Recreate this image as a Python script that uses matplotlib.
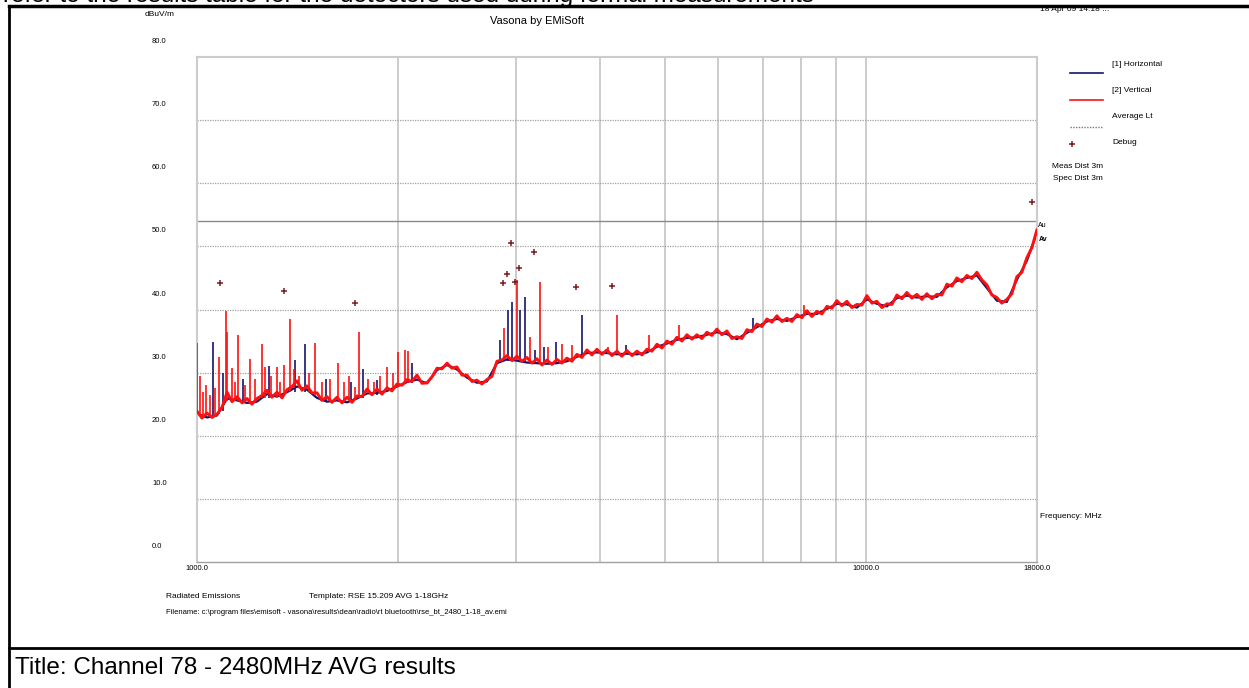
import matplotlib
matplotlib.use('Agg')
import matplotlib.pyplot as plt
from matplotlib.lines import Line2D
from matplotlib.transforms import ScaledTranslation

W, H = 1249, 688

# --- trace data (MHz, dBuV/m) ---
freq_v = [1000, 1017, 1035, 1053, 1071, 1090, 1109, 1128, 1148, 1168,
          1188, 1208, 1229, 1251, 1272, 1294, 1317, 1340, 1363, 1387,
          1411, 1435, 1460, 1485, 1511, 1537, 1564, 1591, 1619, 1647,
          1676, 1705, 1734, 1764, 1795, 1826, 1858, 1890, 1923, 1956,
          1990, 2025, 2060, 2095, 2132, 2169, 2206, 2244, 2284, 2323,
          2364, 2404, 2446, 2489, 2532, 2576, 2620, 2666, 2712, 2759,
          2807, 2856, 2905, 2956, 3007, 3059, 3112, 3166, 3221, 3277,
          3334, 3392, 3451, 3510, 3571, 3633, 3696, 3760, 3826, 3892,
          3960, 4028, 4098, 4169, 4242, 4315, 4390, 4467, 4544, 4623,
          4703, 4785, 4868, 4952, 5038, 5125, 5214, 5305, 5397, 5490,
          5586, 5682, 5781, 5881, 5983, 6087, 6193, 6300, 6410, 6521,
          6634, 6749, 6866, 6985, 7106, 7230, 7355, 7482, 7613, 7745,
          7879, 8016, 8155, 8296, 8440, 8587, 8736, 8887, 9041, 9198,
          9358, 9520, 9685, 9853, 10024, 10198, 10375, 10556, 10738, 10925,
          11114, 11307, 11503, 11703, 11906, 12113, 12322, 12537, 12754, 12976,
          13200, 13430, 13662, 13899, 14140, 14386, 14635, 14889, 15147, 15410,
          15678, 15950, 16227, 16508, 16795, 17087, 17382, 17685, 17991]
level_v = [23.9, 22.8, 23.6, 22.9, 23.4, 24.5, 26.9, 25.4, 26.2, 25.2,
           25.9, 25.0, 25.9, 26.4, 27.2, 26.1, 26.9, 26.0, 27.3, 27.8,
           28.7, 27.2, 27.9, 26.8, 26.8, 25.6, 26.2, 25.3, 26.1, 25.2,
           26.1, 25.3, 26.3, 26.2, 27.4, 26.5, 27.4, 26.6, 27.6, 27.1,
           28.2, 28.0, 28.9, 28.6, 29.6, 28.3, 28.4, 29.3, 30.7, 30.6,
           31.5, 30.7, 30.9, 29.6, 29.6, 28.6, 28.8, 28.2, 28.9, 29.4,
           31.8, 32.0, 32.7, 31.9, 32.6, 31.8, 32.4, 31.5, 32.2, 31.2,
           32.0, 31.3, 32.1, 31.5, 32.3, 31.8, 32.9, 32.4, 33.6, 32.8,
           33.7, 32.9, 33.6, 32.7, 33.4, 32.6, 33.5, 32.7, 33.4, 32.8,
           33.7, 33.4, 34.5, 33.9, 35.0, 34.5, 35.6, 35.0, 36.0, 35.3,
           36.0, 35.4, 36.4, 35.9, 36.9, 36.0, 36.6, 35.4, 35.7, 35.4,
           36.8, 36.5, 37.7, 37.3, 38.5, 38.0, 39.0, 38.1, 38.6, 38.1,
           39.2, 38.7, 39.8, 38.9, 39.7, 39.3, 40.5, 40.2, 41.4, 40.6,
           41.3, 40.3, 40.8, 40.7, 42.2, 41.0, 41.3, 40.3, 40.9, 40.8,
           42.3, 41.7, 42.7, 41.8, 42.4, 41.6, 42.5, 41.7, 42.4, 42.3,
           44.0, 43.7, 45.0, 44.4, 45.4, 44.9, 45.9, 44.7, 43.9, 42.3,
           41.9, 41.0, 41.6, 42.5, 45.2, 45.9, 48.2, 49.8, 52.6]

freq_h = [1000, 1035, 1071, 1109, 1148, 1188, 1229, 1272, 1317, 1363,
          1411, 1460, 1511, 1564, 1619, 1676, 1734, 1795, 1858, 1923,
          1990, 2060, 2132, 2206, 2284, 2364, 2446, 2532, 2620, 2712,
          2807, 2905, 3007, 3112, 3221, 3334, 3451, 3571, 3696, 3826,
          3960, 4098, 4242, 4390, 4544, 4703, 4868, 5038, 5214, 5397,
          5586, 5781, 5983, 6193, 6410, 6634, 6866, 7106, 7355, 7613,
          7879, 8155, 8440, 8736, 9041, 9358, 9685, 10024, 10375, 10738,
          11114, 11503, 11906, 12322, 12754, 13200, 13662, 14140, 14635, 15147,
          15678, 16227, 16795, 17382, 17991]
level_h = [23.5, 22.9, 23.2, 25.9, 25.6, 25.2, 25.4, 26.6, 26.2, 26.9,
           27.8, 27.3, 26.0, 25.4, 25.6, 25.3, 25.9, 26.7, 26.8, 27.1,
           27.8, 28.5, 28.9, 28.3, 30.4, 31.2, 30.5, 29.2, 28.4, 28.6,
           31.5, 32.1, 31.9, 31.6, 31.5, 31.4, 31.5, 31.8, 32.5, 33.1,
           33.2, 33.1, 32.9, 33.0, 32.9, 33.2, 34.1, 34.6, 35.2, 35.5,
           35.6, 36.0, 36.4, 36.1, 35.3, 36.3, 37.2, 38.1, 38.5, 38.2,
           38.8, 39.3, 39.3, 40.1, 40.9, 40.8, 40.3, 41.6, 40.9, 40.5,
           41.8, 42.2, 41.9, 42.1, 42.0, 43.5, 44.5, 45.0, 45.4, 43.4,
           41.4, 41.2, 44.7, 47.7, 52.1]

# narrow-band spikes: frequency, floor, peak
v_spike_freq = [1000, 1010, 1020, 1031, 1045, 1065, 1080, 1105, 1108, 1127,
                1140, 1153, 1180, 1200, 1220, 1249, 1263, 1290, 1315, 1330,
                1348, 1377, 1395, 1420, 1470, 1500, 1540, 1580, 1626, 1660,
                1688, 1720, 1748, 1800, 1840, 1880, 1921, 1960, 2000, 2046,
                2066, 2876, 3004, 3146, 3255, 3345, 3508, 3632, 4109, 4247,
                4742, 5257, 8080]
v_spike_low = [23.5, 23.2, 23.0, 23.2, 23.0, 23.2, 23.5, 25.5, 25.5, 25.5,
               25.5, 25.5, 25.3, 25.3, 25.3, 26.0, 26.0, 26.2, 26.2, 26.2,
               26.5, 27.0, 27.5, 27.5, 27.0, 26.5, 25.6, 25.6, 25.7, 25.7,
               25.7, 25.8, 26.0, 26.8, 26.8, 27.0, 27.2, 27.3, 27.8, 28.3,
               28.3, 32.0, 32.0, 31.8, 31.6, 31.5, 31.6, 31.8, 33.0, 33.0,
               33.3, 35.2, 39.3]
v_spike_top = [34.7, 29.5, 27.0, 28.0, 26.5, 27.5, 32.5, 39.7, 36.5, 30.7,
               28.5, 36.0, 28.0, 32.2, 29.0, 34.5, 30.9, 29.5, 30.9, 28.5,
               31.2, 38.5, 30.5, 29.5, 30.0, 34.7, 28.5, 29.0, 31.5, 28.5,
               29.5, 27.8, 36.5, 29.0, 28.5, 29.5, 30.9, 30.0, 33.3, 33.6,
               33.4, 37.0, 44.7, 35.7, 44.4, 34.0, 34.6, 34.4, 34.1, 39.1,
               36.0, 37.5, 40.7]

h_spike_freq = [1058, 1095, 1170, 1280, 1400, 1449, 1560, 1700, 1770, 1860,
                2097, 2837, 2919, 2960, 3039, 3091, 3201, 3300, 3440, 3758,
                4381, 6782]
h_spike_low = [23.0, 24.0, 25.3, 26.0, 27.0, 27.0, 25.3, 25.3, 26.0, 26.5,
               28.3, 31.5, 31.8, 31.8, 31.8, 31.8, 31.5, 31.3, 31.3, 32.3,
               33.0, 36.8]
h_spike_top = [34.9, 30.0, 29.0, 31.0, 32.0, 34.5, 29.0, 28.5, 30.5, 28.8,
               31.5, 35.2, 39.9, 41.2, 39.9, 42.0, 33.6, 34.1, 34.9, 39.1,
               34.4, 38.6]

debug_freq = [1082, 1350, 1722, 2869, 2908, 2949, 2986, 3025, 3191, 3680, 4169, 17663]
debug_level = [44.2, 43.0, 41.0, 44.2, 45.6, 50.6, 44.4, 46.5, 49.1, 43.6, 43.7, 57.1]

limit_freq = [1000, 18000]
limit_level = [54.0, 54.0]

x_ticks = [1000, 10000, 18000]
x_grid = [2000, 3000, 4000, 5000, 6000, 7000, 8000, 9000, 10000]
y_ticks = [0, 10, 20, 30, 40, 50, 60, 70, 80]

# --- colours ---
RED = '#ff1010'
NAVY = '#14146e'
MAROON = '#7a1c1c'
GRID = '#a0a0a0'

plt.rcParams['font.family'] = ['Liberation Sans', 'DejaVu Sans']
small = ['Liberation Sans Narrow', 'Liberation Sans', 'DejaVu Sans']

fig = plt.figure(figsize=(W / 100, H / 100), dpi=100)
ax = fig.add_axes([197 / W, 1 - 562 / H, 840 / W, 505 / H])


def fx(px):
    return px / W


def fy(py):
    return 1 - py / H


ax.set_xscale('log')
ax.set_xlim(1000, 18000)
ax.set_ylim(0, 80)
ax.set_xticks([])
ax.set_xticks([], minor=True)
ax.set_yticks([])
ax.tick_params(length=0)

for f in x_grid:
    ax.axvline(f, color='#c8c8c8', lw=1.3, zorder=0)
for v in y_ticks[1:-1]:
    ax.axhline(v, color=GRID, lw=0.9, ls=(0, (1, 1)), zorder=0)
for s in ['top', 'left', 'right']:
    ax.spines[s].set_color('#cccccc')
    ax.spines[s].set_linewidth(1.5)
ax.spines['bottom'].set_color(GRID)
ax.spines['bottom'].set_linestyle((0, (1, 1)))
ax.spines['bottom'].set_linewidth(1.0)

ax.plot(limit_freq, limit_level, color='#8a8a8a', lw=1.0, zorder=1)

ax.plot(freq_h, level_h, color=NAVY, lw=1.6, zorder=2)
ax.vlines(h_spike_freq, h_spike_low, h_spike_top, color=NAVY, lw=1.2, zorder=2)
ax.plot(freq_v, level_v, color=RED, lw=2.1, zorder=3)
ax.vlines(v_spike_freq, v_spike_low, v_spike_top, color=RED, lw=1.2, zorder=3)
ax.plot(debug_freq, debug_level, ls='none', marker='+', ms=5, mew=1.1,
        color=MAROON, zorder=4)

# axis labels, drawn the way Vasona does (values sit above their grid line)
yoff = ScaledTranslation(0, 15.5 / 100, fig.dpi_scale_trans)
for v in y_ticks:
    ax.text((152 - 197) / 840, v, f'{v:.1f}', transform=ax.get_yaxis_transform() + yoff,
            ha='left', va='center', fontsize=5.5, family=small)
xoff = ScaledTranslation(0, -6 / 100, fig.dpi_scale_trans)
for v in x_ticks:
    ax.text(v, 0, f'{v:.1f}', transform=ax.get_xaxis_transform() + xoff,
            ha='center', va='center', fontsize=5.5, family=small)

fig.text(fx(160), fy(15), 'dBuV/m', ha='center', va='center', fontsize=6, family=small)
fig.text(fx(537), fy(21), 'Vasona by EMiSoft', ha='center', va='center', fontsize=8, family=small)
fig.text(fx(1040), fy(11), '18 Apr 09 14:18 ...', ha='left', va='baseline', fontsize=6, family=small)
fig.text(fx(1040), fy(517), 'Frequency: MHz', ha='left', va='center', fontsize=6, family=small)
fig.text(fx(1038), fy(226), 'Au', ha='left', va='center', fontsize=5, family=small)
fig.text(fx(1039), fy(239), 'Av', ha='left', va='center', fontsize=5, weight='bold', family=small)

# legend on the right
leg_rows = [('[1] Horizontal', 65), ('[2] Vertical', 91), ('Average Lt', 117), ('Debug', 143)]
for label, ty in leg_rows:
    fig.text(fx(1112), fy(ty), label, ha='left', va='center', fontsize=6, family=small)
fig.add_artist(Line2D([fx(1070), fx(1103)], [fy(73), fy(73)], color=NAVY, lw=1.2))
fig.add_artist(Line2D([fx(1070), fx(1103)], [fy(100), fy(100)], color=RED, lw=1.2))
fig.add_artist(Line2D([fx(1070), fx(1103)], [fy(127), fy(127)], color='#777777', lw=1.0, ls=(0, (1, 1))))
fig.add_artist(Line2D([fx(1072)], [fy(144)], color=MAROON, marker='+', ms=5, mew=1.1, ls='none'))
fig.text(fx(1103), fy(166), 'Meas Dist 3m', ha='right', va='center', fontsize=6, family=small)
fig.text(fx(1103), fy(178), 'Spec Dist 3m', ha='right', va='center', fontsize=6, family=small)

# footer of the plot
fig.text(fx(166), fy(597), 'Radiated Emissions', ha='left', va='center', fontsize=6, family=small)
fig.text(fx(309), fy(597), 'Template: RSE 15.209 AVG 1-18GHz', ha='left', va='center', fontsize=6, family=small)
fig.text(fx(166), fy(613), 'Filename: c:\\program files\\emisoft - vasona\\results\\dean\\radio\\rt bluetooth\\rse_bt_2480_1-18_av.emi',
         ha='left', va='center', fontsize=5.5, family=small)

# surrounding document
fig.text(fx(3), fy(2), 'refer to the results table for the detectors used during formal measurements',
         ha='left', va='baseline', fontsize=17.5)
fig.text(fx(15), fy(668), 'Title: Channel 78 - 2480MHz AVG results', ha='left', va='center', fontsize=17.5)
fig.add_artist(Line2D([fx(9), 1], [fy(6), fy(6)], color='black', lw=2.5, zorder=10))
fig.add_artist(Line2D([fx(9), fx(9)], [fy(6), 0], color='black', lw=2.0, zorder=10))
fig.add_artist(Line2D([fx(9), 1], [fy(648), fy(648)], color='black', lw=2.0, zorder=10))

fig.savefig('out.png', dpi=100)
